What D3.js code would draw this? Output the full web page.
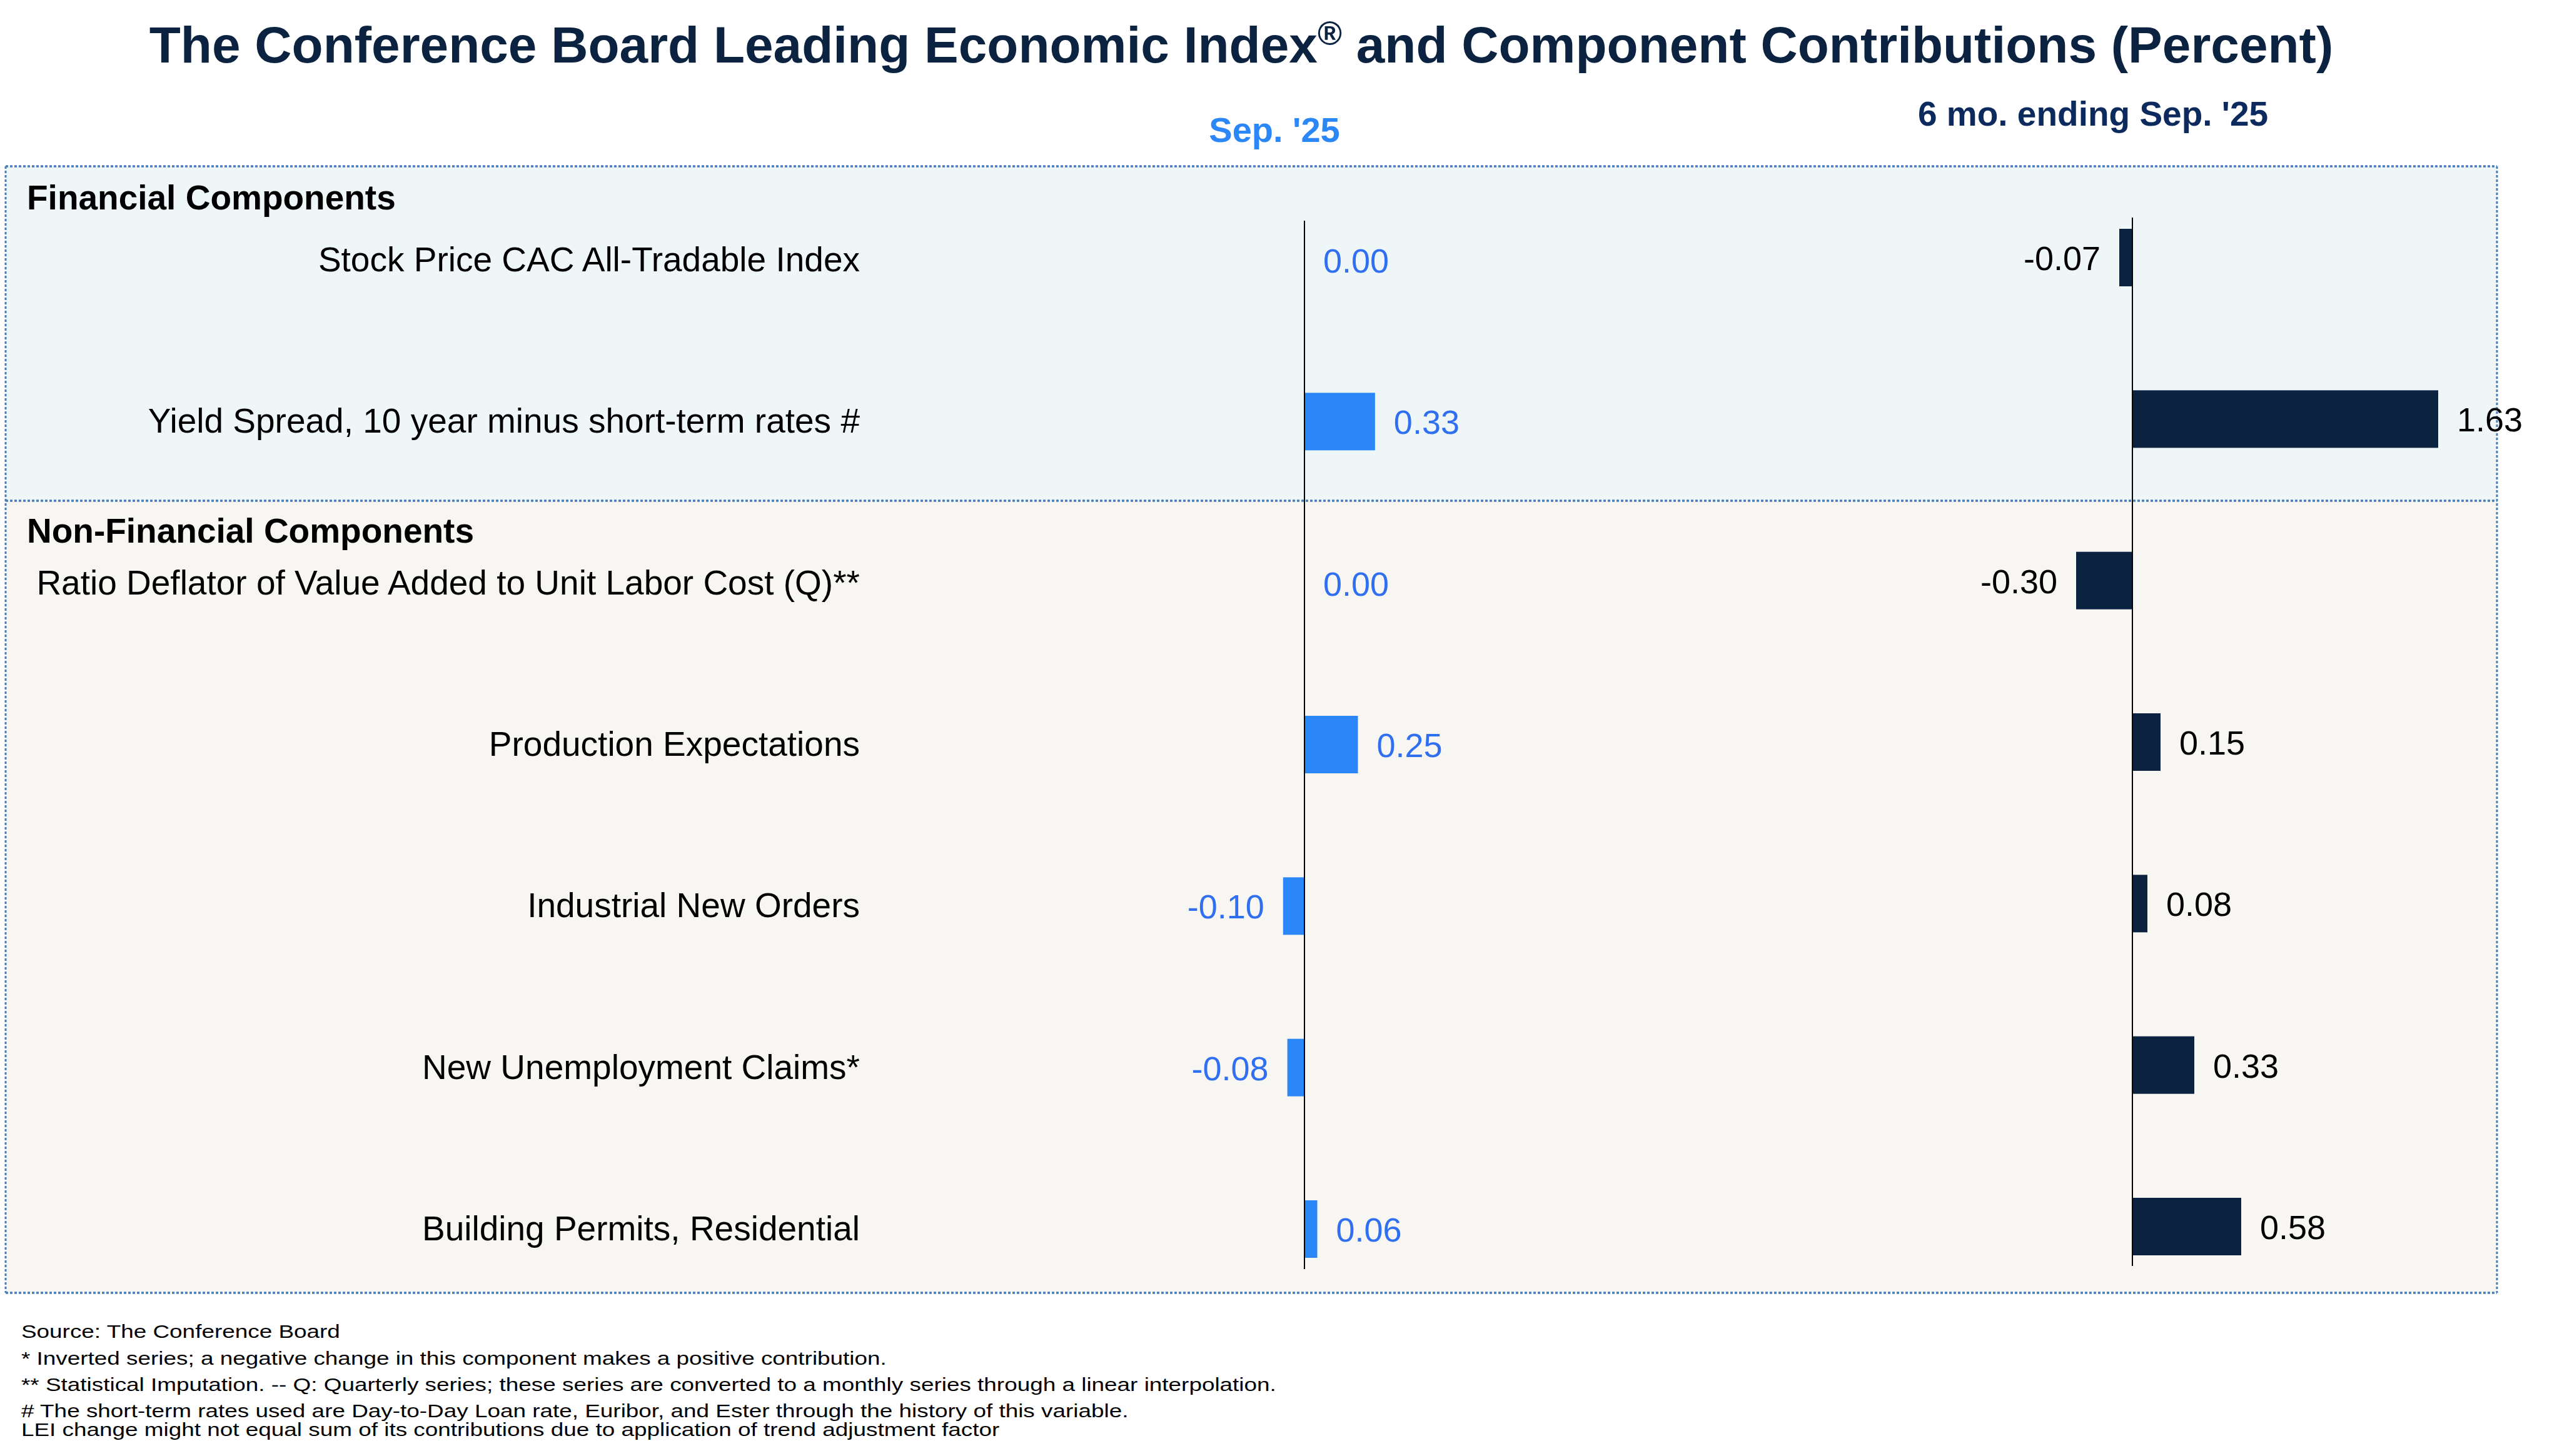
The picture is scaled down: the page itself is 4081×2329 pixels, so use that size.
<!DOCTYPE html>
<html>
<head>
<meta charset="utf-8">
<script src="https://cdn.jsdelivr.net/npm/d3@7"></script>
<style>
  body { margin: 0; background: #fff; }
  text { font-family: "Liberation Sans", Arial, sans-serif; }
</style>
</head>
<body>
<svg id="chart" width="4081" height="2329"></svg>
<script>
// component names, top to bottom
const components = [
  "Stock Price CAC All-Tradable Index",
  "Yield Spread, 10 year minus short-term rates #",
  "Ratio Deflator of Value Added to Unit Labor Cost (Q)**",
  "Production Expectations",
  "Industrial New Orders",
  "New Unemployment Claims*",
  "Building Permits, Residential"
];
const groups = ["Financial Components", "Non-Financial Components"];
const sepValues = [0.00, 0.33, 0.00, 0.25, -0.10, -0.08, 0.06];
const sixMonthValues = [-0.07, 1.63, -0.30, 0.15, 0.08, 0.33, 0.58];
const footnotes = [
  "Source: The Conference Board",
  "*  Inverted series; a negative change in this component makes a positive contribution.",
  "**  Statistical Imputation. -- Q: Quarterly series; these series are converted to a monthly series through a linear interpolation.",
  "# The short-term rates used are Day-to-Day Loan rate, Euribor, and Ester through the history of this variable.",
  "LEI change might not equal sum of its contributions due to application of trend adjustment factor"
];

const svg = d3.select("#chart");
const navy = "#0b2341";
const blue = "#2b87f7";

// title
svg.append("text")
  .attr("x", 1985).attr("y", 100)
  .attr("text-anchor", "middle")
  .style("font-size", "82px").style("font-weight", "bold").style("fill", navy)
  .call(t => {
    t.append("tspan").text("The Conference Board Leading Economic Index");
    t.append("tspan").text("®").style("font-size", "53px").attr("dy", -28);
    t.append("tspan").text(" and Component Contributions (Percent)").attr("dy", 28);
  });

svg.append("text")
  .attr("x", 2038).attr("y", 227).attr("text-anchor", "middle")
  .style("font-size", "56px").style("font-weight", "bold").style("fill", blue)
  .text("Sep. '25");
svg.append("text")
  .attr("x", 3347).attr("y", 201).attr("text-anchor", "middle")
  .style("font-size", "55px").style("font-weight", "bold").style("fill", "#0c2a5e")
  .text("6 mo. ending Sep. '25");

// panels
const panels = [
  {name: groups[0], y0: 266, y1: 801, fill: "#eef6f8"},
  {name: groups[1], y0: 801, y1: 2068, fill: "#f7f6f2"}
];
const left = 9, right = 3993;
panels.forEach(p => {
  svg.append("rect")
    .attr("x", left).attr("y", p.y0)
    .attr("width", right - left).attr("height", p.y1 - p.y0)
    .style("fill", p.fill);
});
const borderColor = "#4a7ebb";
[266, 801, 2068].forEach(y => {
  svg.append("line").attr("x1", left).attr("x2", right).attr("y1", y).attr("y2", y)
    .style("stroke", borderColor).style("stroke-width", 3.5).style("stroke-dasharray", "4,3");
});
[left, right].forEach(x => {
  svg.append("line").attr("x1", x).attr("x2", x).attr("y1", 266).attr("y2", 2068)
    .style("stroke", borderColor).style("stroke-width", 3).style("stroke-dasharray", "4,3");
});

svg.append("text").attr("x", 43).attr("y", 335)
  .style("font-size", "55px").style("font-weight", "bold").style("fill", "#000")
  .text(groups[0]);
svg.append("text").attr("x", 43).attr("y", 868)
  .style("font-size", "55px").style("font-weight", "bold").style("fill", "#000")
  .text(groups[1]);

// scales
const y6 = d3.scalePoint().domain(components).range([412, 1962]);
const ySep = d3.scalePoint().domain(components).range([416, 1966]);
const xSep = d3.scaleLinear().domain([-1, 1]).range([2086 - 342, 2086 + 342]);
const x6 = d3.scaleLinear().domain([-1, 1]).range([3410 - 300, 3410 + 300]);
const barH = 92;

// row labels
svg.selectAll(".rowlabel")
  .data(components)
  .enter()
  .append("text")
  .attr("class", "rowlabel")
  .attr("x", 1375)
  .attr("y", d => y6(d) + 22)
  .attr("text-anchor", "end")
  .style("font-size", "55px").style("fill", "#000")
  .text(d => d);

let drawPanel = (values, x, y, barColor, labelColor, axisTop, axisBottom) => {
  const data = components.map((c, i) => ({name: c, value: values[i]}));
  const g = svg.append("g");
  g.selectAll(".bar")
    .data(data)
    .enter()
    .append("rect")
    .attr("class", "bar")
    .attr("x", d => Math.min(x(0), x(d.value)))
    .attr("y", d => y(d.name) - barH / 2)
    .attr("width", d => Math.abs(x(d.value) - x(0)))
    .attr("height", barH)
    .style("fill", barColor);

  g.append("line")
    .attr("x1", x(0)).attr("x2", x(0))
    .attr("y1", axisTop).attr("y2", axisBottom)
    .style("stroke", "#000").style("stroke-width", 2);

  g.selectAll(".val")
    .data(data)
    .enter()
    .append("text")
    .attr("class", "val")
    .attr("x", d => d.value < 0 ? x(d.value) - 30 : x(d.value) + 30)
    .attr("y", d => y(d.name) + 20)
    .attr("text-anchor", d => d.value < 0 ? "end" : "start")
    .style("font-size", "54px").style("fill", labelColor)
    .text(d => d3.format(".2f")(d.value).replace("−", "-"));
};

drawPanel(sepValues, xSep, ySep, blue, "#2f6ff0", 353, 2030);
drawPanel(sixMonthValues, x6, y6, navy, "#000", 348, 2025);

// footnotes (the source text is drawn wide, so stretch horizontally)
const footY = [2140, 2183, 2225, 2267, 2297];
const foot = svg.append("g").attr("transform", "translate(34,0) scale(1.23,1)");
foot.selectAll(".foot")
  .data(footnotes)
  .enter()
  .append("text")
  .attr("class", "foot")
  .attr("x", 0)
  .attr("y", (d, i) => footY[i])
  .style("font-size", "30px").style("fill", "#000")
  .text(d => d);
</script>
</body>
</html>
